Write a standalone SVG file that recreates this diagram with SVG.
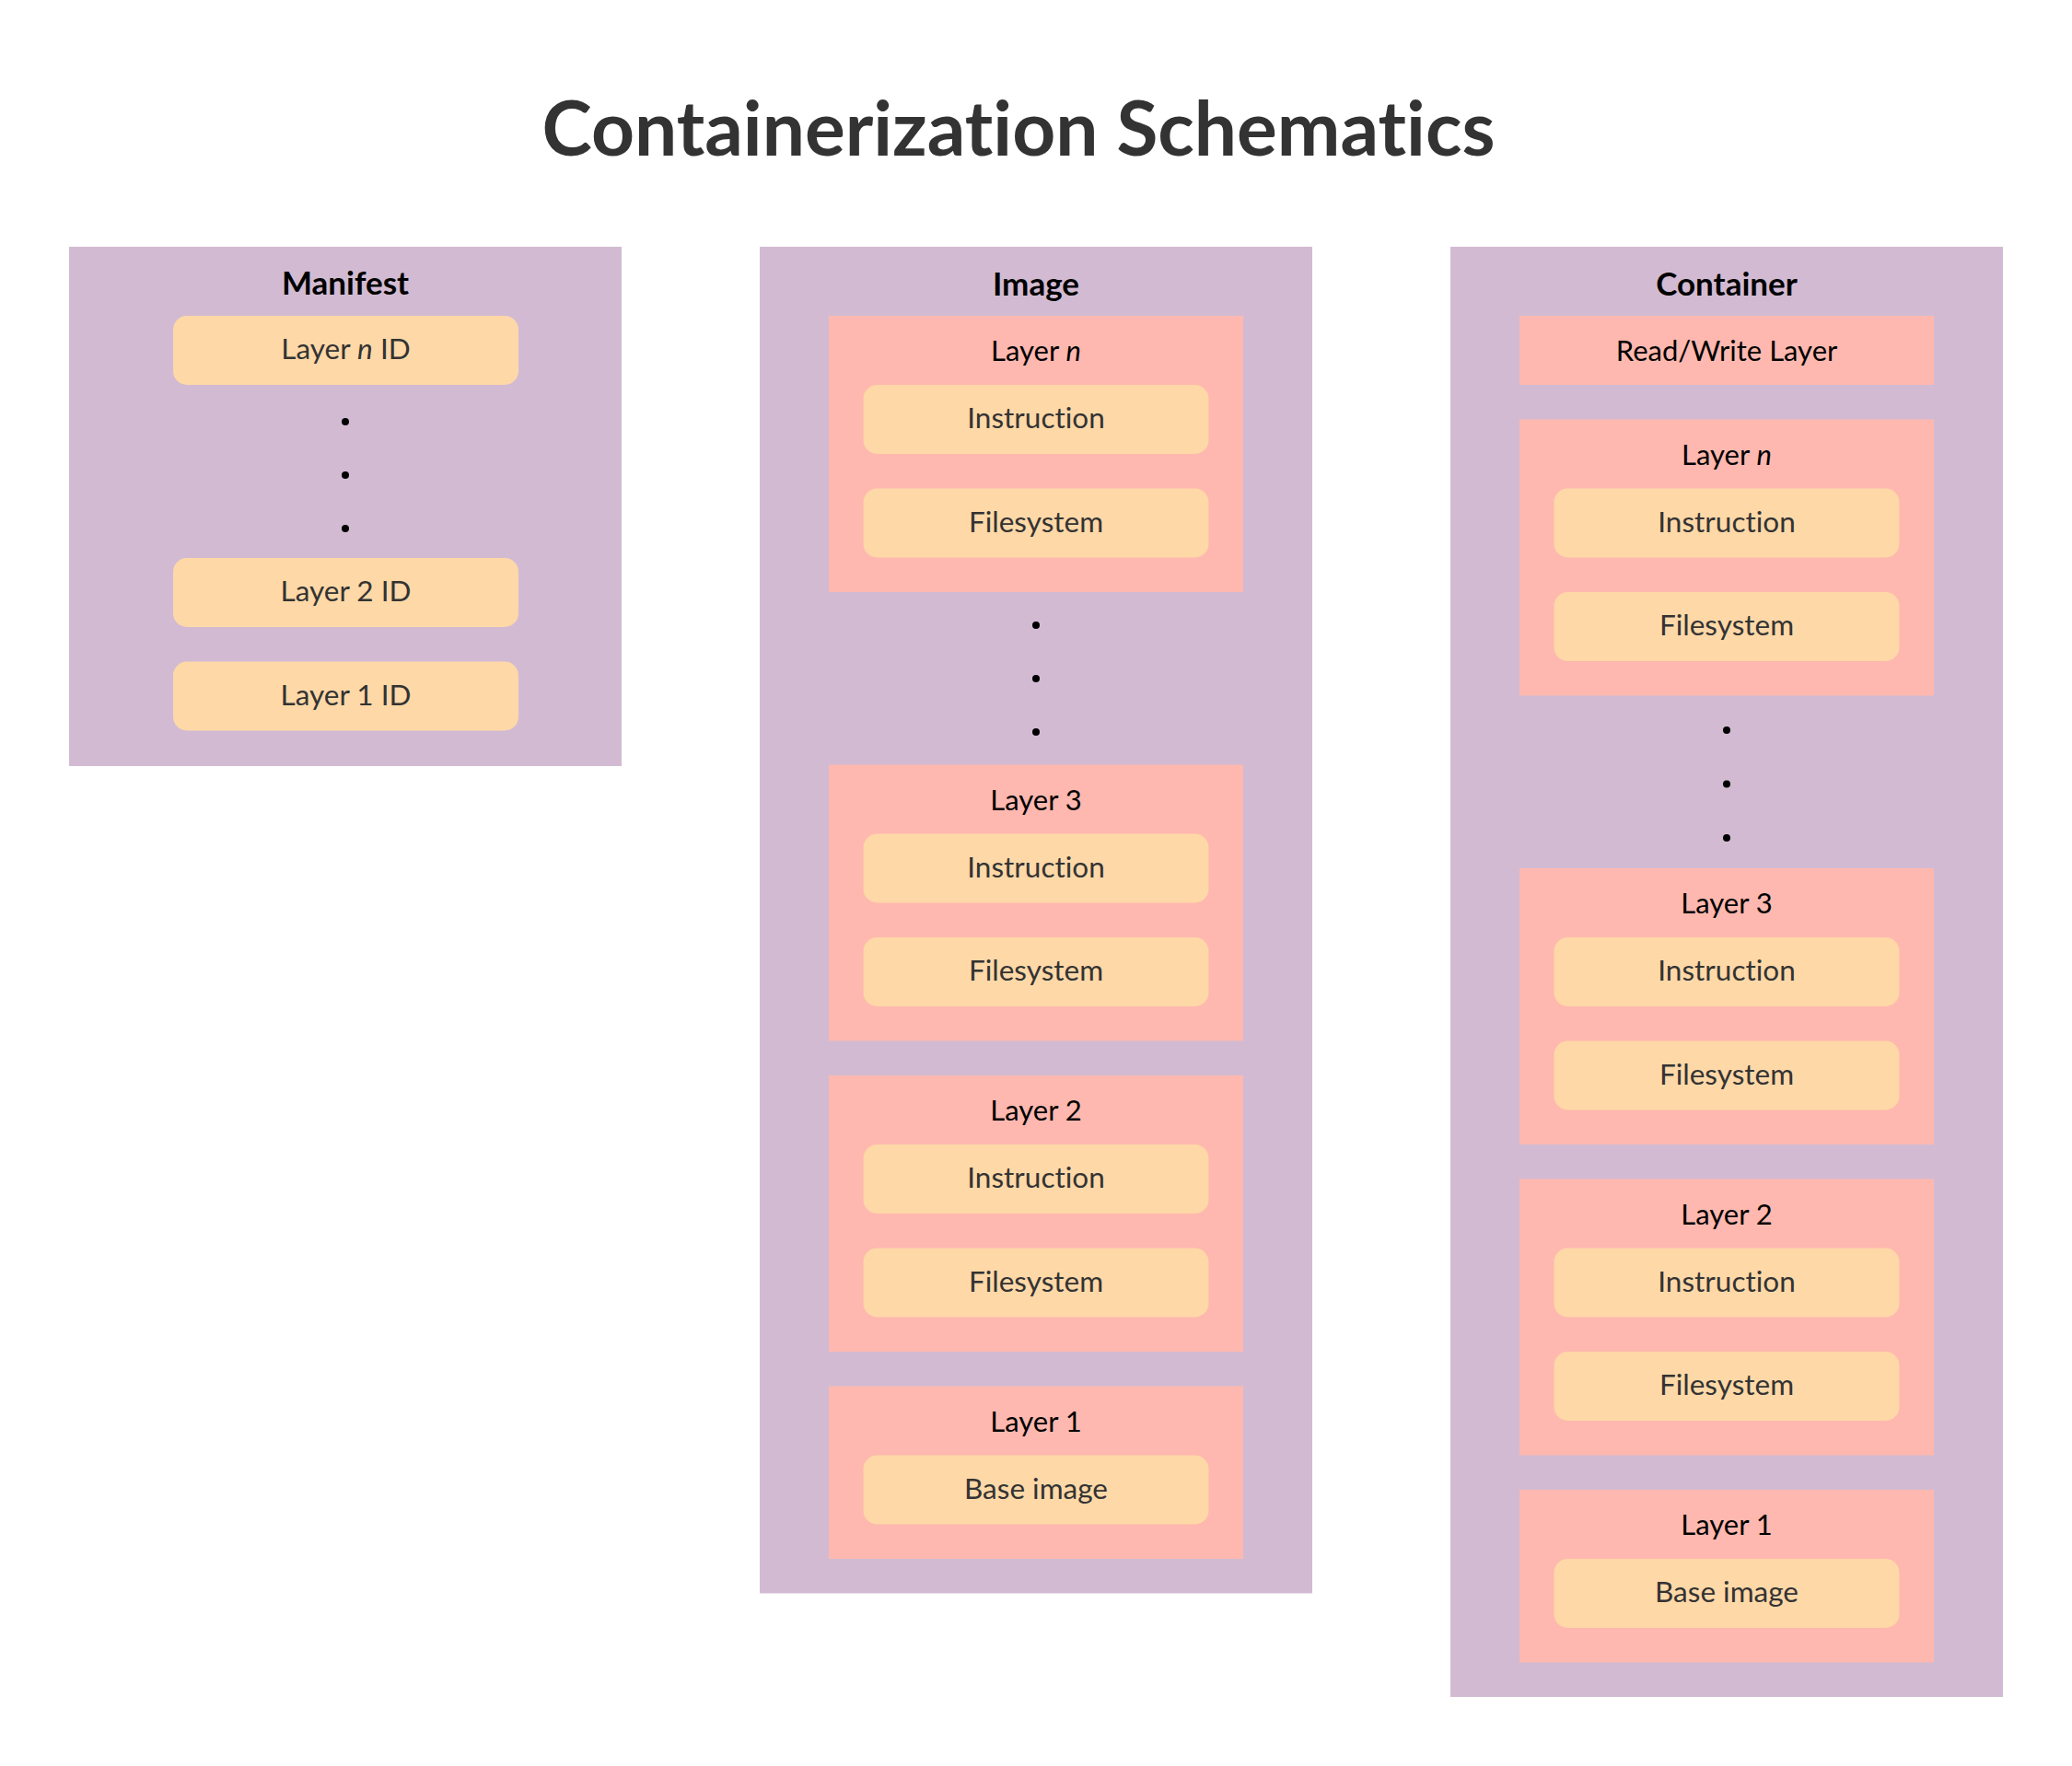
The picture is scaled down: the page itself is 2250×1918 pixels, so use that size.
<svg xmlns="http://www.w3.org/2000/svg" width="2250" height="1918" viewBox="0 0 2250 1918">
<style>
text{font-variant-ligatures:none;font-feature-settings:"liga" 0,"dlig" 0}
.col{fill:#D2BBD2}
.layer{fill:#FEB8AF}
.box{fill:#FED8A7}
.title{font-family:Lato,"Liberation Sans",sans-serif;font-weight:700;font-size:82px;fill:#333333;text-anchor:middle}
.hdr{font-family:Lato,"Liberation Sans",sans-serif;font-weight:700;font-size:35px;fill:#000000;text-anchor:middle}
.lbl{font-family:Lato,"Liberation Sans",sans-serif;font-size:31px;fill:#000000;text-anchor:middle}
.txt{font-family:Lato,"Liberation Sans",sans-serif;font-size:31.5px;fill:#333333;text-anchor:middle}
.dot{fill:#000000}
</style>
<rect width="2250" height="1918" fill="#FFFFFF"/>
<text class="title" x="1106" y="169">Containerization Schematics</text>

<g id="manifest">
<rect class="col" x="75" y="268" width="600" height="564"/>
<text class="hdr" x="375" y="320">Manifest</text>
<g id="manifest-layer-n"><rect class="box" x="188" y="343" width="375" height="75" rx="15"/><text class="txt" x="375.5" y="390">Layer <tspan font-style="italic">n</tspan> ID</text></g>
<circle class="dot" cx="375" cy="458" r="4"/><circle class="dot" cx="375" cy="516" r="4"/><circle class="dot" cx="375" cy="574" r="4"/>
<g id="manifest-layer-2"><rect class="box" x="188" y="606" width="375" height="75" rx="15"/><text class="txt" x="375.5" y="653">Layer 2 ID</text></g>
<g id="manifest-layer-1"><rect class="box" x="188" y="718.5" width="375" height="75" rx="15"/><text class="txt" x="375.5" y="765.5">Layer 1 ID</text></g>
</g>

<g id="image">
<rect class="col" x="825" y="268" width="600" height="1462.5"/>
<text class="hdr" x="1125" y="321">Image</text>
<g id="image-layer-n">
<rect class="layer" x="900" y="343" width="450" height="300"/>
<text class="lbl" x="1125" y="392">Layer <tspan font-style="italic">n</tspan></text>
<rect class="box" x="937.5" y="418" width="375" height="75" rx="15"/><text class="txt" x="1125" y="465">Instruction</text>
<rect class="box" x="937.5" y="530.5" width="375" height="75" rx="15"/><text class="txt" x="1125" y="577.5">Filesystem</text>
</g>
<circle class="dot" cx="1125" cy="679" r="4"/><circle class="dot" cx="1125" cy="737" r="4"/><circle class="dot" cx="1125" cy="795" r="4"/>
<g id="image-layer-3">
<rect class="layer" x="900" y="830.5" width="450" height="300"/>
<text class="lbl" x="1125" y="879.5">Layer 3</text>
<rect class="box" x="937.5" y="905.5" width="375" height="75" rx="15"/><text class="txt" x="1125" y="952.5">Instruction</text>
<rect class="box" x="937.5" y="1018" width="375" height="75" rx="15"/><text class="txt" x="1125" y="1065">Filesystem</text>
</g>
<g id="image-layer-2">
<rect class="layer" x="900" y="1168" width="450" height="300"/>
<text class="lbl" x="1125" y="1217">Layer 2</text>
<rect class="box" x="937.5" y="1243" width="375" height="75" rx="15"/><text class="txt" x="1125" y="1290">Instruction</text>
<rect class="box" x="937.5" y="1355.5" width="375" height="75" rx="15"/><text class="txt" x="1125" y="1402.5">Filesystem</text>
</g>
<g id="image-layer-1">
<rect class="layer" x="900" y="1505.5" width="450" height="187.5"/>
<text class="lbl" x="1125" y="1554.5">Layer 1</text>
<rect class="box" x="937.5" y="1580.5" width="375" height="75" rx="15"/><text class="txt" x="1125" y="1627.5">Base image</text>
</g>
</g>

<g id="container">
<rect class="col" x="1575" y="268" width="600" height="1575"/>
<text class="hdr" x="1875" y="321">Container</text>
<g id="container-rw">
<rect class="layer" x="1650" y="343" width="450" height="75"/>
<text class="lbl" x="1875" y="392">Read/Write Layer</text>
</g>
<g id="container-layer-n">
<rect class="layer" x="1650" y="455.5" width="450" height="300"/>
<text class="lbl" x="1875" y="504.5">Layer <tspan font-style="italic">n</tspan></text>
<rect class="box" x="1687.5" y="530.5" width="375" height="75" rx="15"/><text class="txt" x="1875" y="577.5">Instruction</text>
<rect class="box" x="1687.5" y="643" width="375" height="75" rx="15"/><text class="txt" x="1875" y="690">Filesystem</text>
</g>
<circle class="dot" cx="1875" cy="793" r="4"/><circle class="dot" cx="1875" cy="851.5" r="4"/><circle class="dot" cx="1875" cy="910" r="4"/>
<g id="container-layer-3">
<rect class="layer" x="1650" y="943" width="450" height="300"/>
<text class="lbl" x="1875" y="992">Layer 3</text>
<rect class="box" x="1687.5" y="1018" width="375" height="75" rx="15"/><text class="txt" x="1875" y="1065">Instruction</text>
<rect class="box" x="1687.5" y="1130.5" width="375" height="75" rx="15"/><text class="txt" x="1875" y="1177.5">Filesystem</text>
</g>
<g id="container-layer-2">
<rect class="layer" x="1650" y="1280.5" width="450" height="300"/>
<text class="lbl" x="1875" y="1329.5">Layer 2</text>
<rect class="box" x="1687.5" y="1355.5" width="375" height="75" rx="15"/><text class="txt" x="1875" y="1402.5">Instruction</text>
<rect class="box" x="1687.5" y="1468" width="375" height="75" rx="15"/><text class="txt" x="1875" y="1515">Filesystem</text>
</g>
<g id="container-layer-1">
<rect class="layer" x="1650" y="1618" width="450" height="187.5"/>
<text class="lbl" x="1875" y="1667">Layer 1</text>
<rect class="box" x="1687.5" y="1693" width="375" height="75" rx="15"/><text class="txt" x="1875" y="1740">Base image</text>
</g>
</g>

<g id="connectors"/>
</svg>
